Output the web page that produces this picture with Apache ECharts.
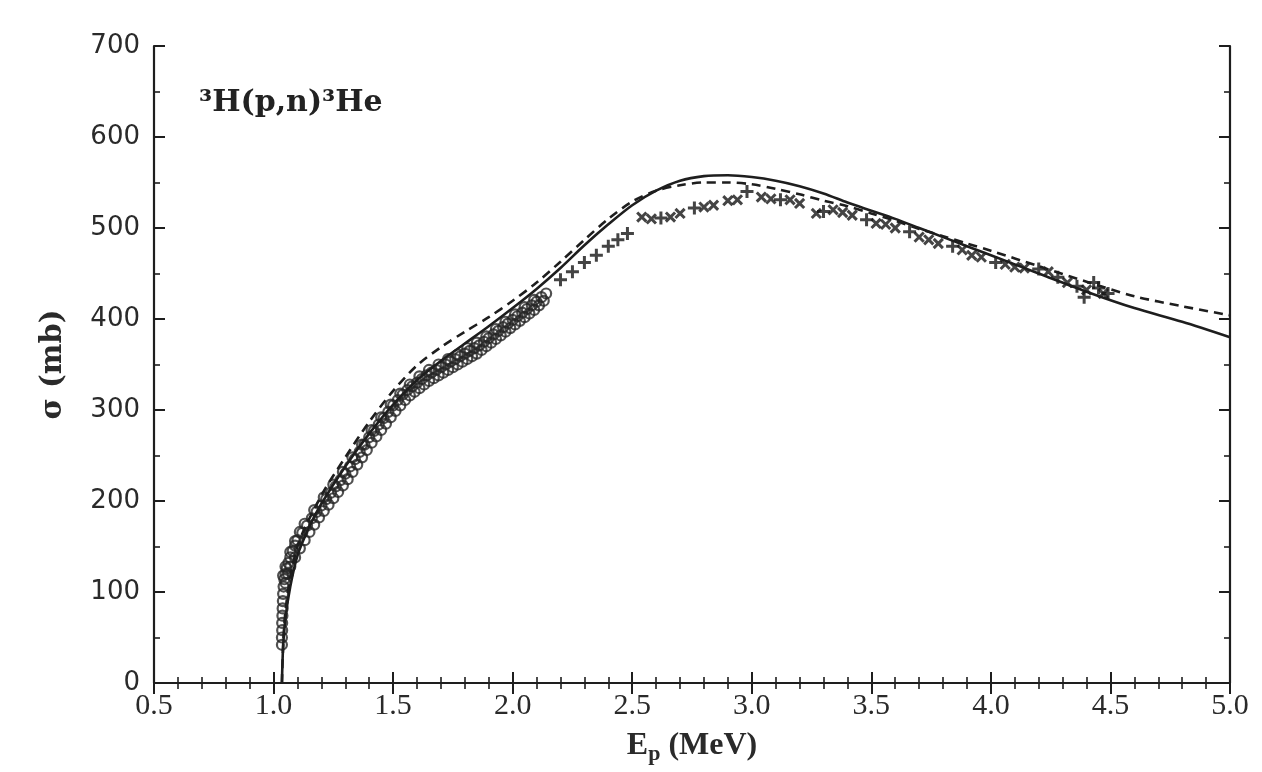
<!DOCTYPE html>
<html>
<head>
<meta charset="utf-8">
<script src="https://cdn.jsdelivr.net/npm/echarts@6/dist/echarts.min.js"></script>
<style>html,body{margin:0;padding:0;background:#fff;}#c{width:1262px;height:772px;}</style>
</head>
<body>
<div id="c"></div>
<script>
// ---- data (E_p in MeV, sigma in mb) ----
const xTicks = [0.5, 1.0, 1.5, 2.0, 2.5, 3.0, 3.5, 4.0, 4.5, 5.0];
const yTicks = [0, 100, 200, 300, 400, 500, 600, 700];

const solidCurve = [
  [1.035,0],[1.04,40],[1.05,72],[1.07,106],[1.1,140],[1.15,172],[1.2,197],[1.3,238],
  [1.4,274],[1.5,306],[1.6,333],[1.7,354],[1.8,373],[1.9,392],[2.0,412],[2.1,433],
  [2.2,456],[2.3,481],[2.4,504],[2.5,525],[2.6,541],[2.7,552],[2.8,557],[2.9,558],
  [3.0,556],[3.1,552],[3.2,546],[3.3,538],[3.4,528],[3.5,519],[3.6,510],[3.7,500],
  [3.8,490],[3.9,480],[4.0,470],[4.2,450],[4.4,430],[4.6,412],[4.8,397],[5.0,380]
];
const dashedCurve = [
  [1.035,0],[1.05,80],[1.1,150],[1.2,206],[1.3,248],[1.4,287],[1.5,321],[1.6,349],
  [1.7,369],[1.8,386],[1.9,402],[2.0,420],[2.1,440],[2.2,463],[2.3,487],[2.4,510],
  [2.5,529],[2.6,541],[2.7,547],[2.8,550],[2.9,550],[3.0,548],[3.1,543],[3.2,537],
  [3.3,530],[3.4,524],[3.5,516],[3.6,508],[3.7,499],[3.8,491],[3.9,483],[4.0,475],
  [4.2,458],[4.4,441],[4.6,425],[4.8,414],[5.0,404]
];
const circleData = [
  [1.035,42],[1.035,50],[1.036,58],[1.036,66],[1.037,74],[1.038,82],[1.039,90],[1.040,98],
  [1.042,106],[1.045,114],[1.050,120],[1.055,126],[1.062,132],[1.070,138],[1.080,145],[1.090,151],
  [1.10,157],[1.12,165],[1.14,173],[1.16,181],[1.18,188],[1.20,195],[1.22,202],[1.24,209],
  [1.26,216],[1.28,223],[1.30,230],[1.32,238],[1.34,246],[1.36,254],[1.38,262],[1.40,270],
  [1.42,277],[1.44,284],[1.46,291],[1.48,298],[1.50,305],[1.52,311],[1.54,317],[1.56,322],
  [1.58,326],[1.60,330],[1.62,334],[1.64,338],[1.66,341],[1.68,344],[1.70,347],[1.72,350],
  [1.74,353],[1.76,356],[1.78,359],[1.80,362],[1.82,365],[1.84,368],[1.86,371],[1.88,375],
  [1.90,379],[1.92,383],[1.94,387],[1.96,391],[1.98,395],[2.00,399],[2.02,403],[2.04,407],
  [2.06,411],[2.08,415],[2.10,419],[2.12,424],[2.14,428]
];
const circleLower = [
  [1.05,110],[1.06,120],[1.07,128],[1.09,138],[1.11,148],[1.13,157],[1.15,166],[1.17,174],
  [1.19,182],[1.21,189],[1.23,196],[1.25,203],[1.27,210],[1.29,217],[1.31,224],[1.33,232],
  [1.35,240],[1.37,248],[1.39,256],[1.41,264],[1.43,271],[1.45,278],[1.47,285],[1.49,292],
  [1.51,299],[1.53,305],[1.55,311],[1.57,316],[1.59,320],[1.61,324],[1.63,328],[1.65,332],
  [1.67,335],[1.69,338],[1.71,341],[1.73,344],[1.75,347],[1.77,350],[1.79,353],[1.81,356],
  [1.83,359],[1.85,362],[1.87,366],[1.89,370],[1.91,374],[1.93,378],[1.95,382],[1.97,386],
  [1.99,390],[2.01,394],[2.03,398],[2.05,402],[2.07,406],[2.09,410],[2.11,415],[2.13,420]
];
const circleUpper = [
  [1.04,118],[1.05,128],[1.07,144],[1.09,156],[1.11,166],[1.13,175],[1.17,190],[1.21,204],
  [1.25,218],[1.29,232],[1.33,248],[1.37,262],[1.41,278],[1.45,292],[1.49,306],[1.53,318],
  [1.57,328],[1.61,337],[1.65,344],[1.69,350],[1.73,356],[1.77,361],[1.81,368],[1.85,374],
  [1.89,381],[1.93,389],[1.97,397],[2.01,405],[2.05,413],[2.09,421]
];
const plusData = [
  [2.20,443],[2.25,452],[2.30,462],[2.35,470],[2.40,480],[2.44,487],[2.48,494],[2.62,511],
  [2.76,522],[2.98,540],[3.12,531],[3.30,518],[3.48,509],[3.66,496],[3.84,480],[4.02,462],
  [4.20,455],[4.28,446],[4.36,436],[4.39,424],[4.43,440],[4.45,434],[4.49,428]
];
const crossData = [
  [2.54,512],[2.58,510],[2.66,512],[2.70,516],[2.80,523],[2.84,525],[2.90,530],[2.94,531],
  [3.04,534],[3.08,532],[3.16,531],[3.20,527],[3.27,516],[3.34,520],[3.38,517],[3.42,514],
  [3.52,505],[3.56,504],[3.60,500],[3.70,490],[3.74,487],[3.78,483],[3.88,476],[3.92,470],
  [3.96,468],[4.06,460],[4.10,457],[4.14,456],[4.24,452],[4.32,440],[4.40,432],[4.47,428]
];

const INK = '#1e1e1e';
const chart = echarts.init(document.getElementById('c'), null, {renderer: 'canvas'});
const xLabelFont = {fontFamily: 'Liberation Serif', fontSize: 30, color: '#2a2a2a'};
const yLabelFont = {fontFamily: 'DejaVu Sans', fontSize: 26, color: '#2a2a2a'};
const tickStyle = {show: true, inside: true, length: 11, lineStyle: {color: INK, width: 2}};
const minorStyle = {show: true, length: 6, lineStyle: {color: INK, width: 1.6}};
const axisLine = {show: true, lineStyle: {color: INK, width: 2.2}};

const xBase = {
  type: 'value', min: xTicks[0], max: xTicks[xTicks.length - 1], interval: 0.5,
  axisLine: axisLine, axisTick: tickStyle,
  minorTick: Object.assign({splitNumber: 5}, minorStyle),
  splitLine: {show: false}
};
const yBase = {
  type: 'value', min: yTicks[0], max: yTicks[yTicks.length - 1], interval: 100,
  axisLine: axisLine, axisTick: tickStyle,
  minorTick: Object.assign({splitNumber: 2}, minorStyle),
  splitLine: {show: false}
};

const plusPath = 'path://M5,0 L5,10 M0,5 L10,5';
const circleStyle = {color: 'rgba(0,0,0,0)', borderColor: '#262626', borderWidth: 2.2};
const option = {
  backgroundColor: '#ffffff',
  animation: false,
  title: {
    text: '³H(p,n)³He',
    left: 194, top: 83,
    textStyle: {fontFamily: 'DejaVu Serif', fontSize: 30, fontWeight: 'bold', color: '#222'}
  },
  grid: {left: 154, right: 32, top: 46, bottom: 89},
  xAxis: [
    Object.assign({}, xBase, {
      position: 'bottom',
      name: 'E{s|p} (MeV)', nameLocation: 'middle', nameGap: 44,
      nameTextStyle: {fontFamily: 'Liberation Serif', fontSize: 32, fontWeight: 'bold', color: '#2a2a2a',
        rich: {s: {fontFamily: 'Liberation Serif', fontSize: 22, fontWeight: 'bold', color: '#2a2a2a', verticalAlign: 'bottom', padding: [16, 0, 0, 0]}}},
      axisLabel: Object.assign({margin: 8, formatter: v => v.toFixed(1)}, xLabelFont)
    }),
    Object.assign({}, xBase, {position: 'top', axisLabel: {show: false}})
  ],
  yAxis: [
    Object.assign({}, yBase, {
      position: 'left',
      name: 'σ (mb)', nameLocation: 'middle', nameGap: 86, nameRotate: 90,
      nameTextStyle: {fontFamily: 'DejaVu Serif', fontSize: 29, fontWeight: 'bold', color: '#2a2a2a'},
      axisLabel: Object.assign({margin: 14}, yLabelFont)
    }),
    Object.assign({}, yBase, {position: 'right', axisLabel: {show: false}})
  ],
  series: [
    {type: 'scatter', data: circleLower, symbol: 'circle', symbolSize: 10, itemStyle: circleStyle, z: 3},
    {type: 'scatter', data: circleUpper, symbol: 'circle', symbolSize: 10, itemStyle: circleStyle, z: 3},
    {type: 'scatter', data: circleData, symbol: 'circle', symbolSize: 10, itemStyle: circleStyle, z: 3},
    {
      type: 'scatter', data: plusData, symbol: plusPath, symbolSize: 13,
      itemStyle: {color: 'none', borderColor: '#151515', borderWidth: 3}, z: 3
    },
    {
      type: 'scatter', data: crossData, symbol: plusPath, symbolSize: 13, symbolRotate: 45,
      itemStyle: {color: 'none', borderColor: '#151515', borderWidth: 3}, z: 3
    },
    {
      type: 'line', data: solidCurve, smooth: 0.3, showSymbol: false, symbol: 'none',
      lineStyle: {color: INK, width: 2.6, type: 'solid'}, z: 4
    },
    {
      type: 'line', data: dashedCurve, smooth: 0.3, showSymbol: false, symbol: 'none',
      lineStyle: {color: INK, width: 2.6, type: [9, 6]}, z: 4
    }
  ]
};
chart.setOption(option);
</script>
</body>
</html>
